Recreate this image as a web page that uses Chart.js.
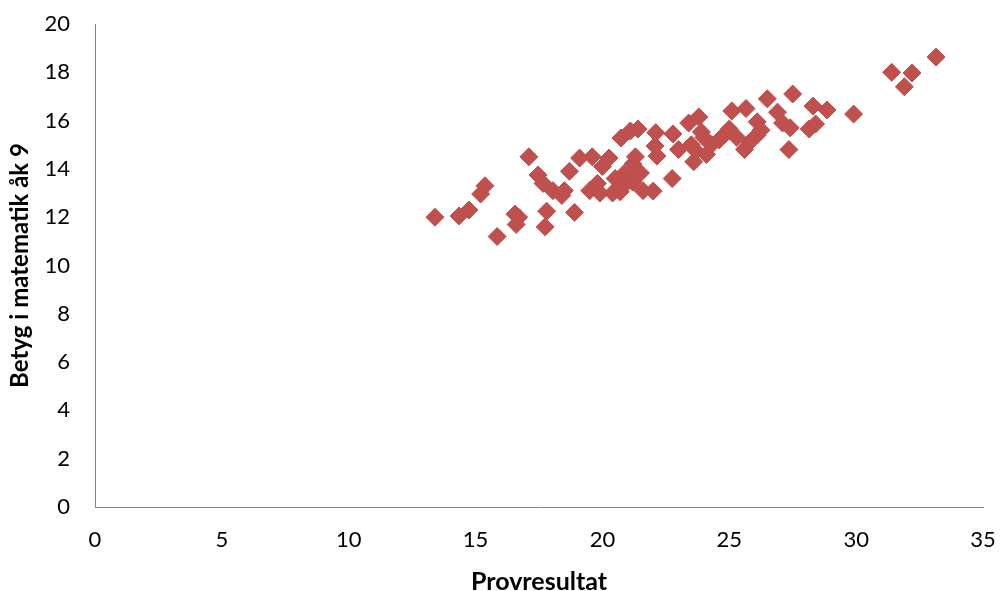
<!DOCTYPE html>
<html>
<head>
	<title>Provresultat vs betyg</title>
	<script src="https://cdn.jsdelivr.net/npm/chart.js@4.4.0/dist/chart.umd.min.js" type="text/javascript"></script>
	<style>
        html, body {
            margin: 0;
            padding: 0;
            background: white;
        }
        #wrap {
            width: 1001px;
            height: 591px;
        }
    </style>
</head>
<body>
	<div id="wrap"><canvas id="scatter"></canvas></div>
</body>
<script>
	// provresultat (x) and betyg (y)
	const provresultat = [13.4, 14.35, 14.74, 15.2, 15.37, 15.85, 16.55, 16.6, 16.7, 17.1,
		17.46, 17.66, 17.74, 17.8, 18.05, 18.4, 18.5, 18.7, 18.9, 19.1,
		19.5, 19.6, 19.8, 19.9, 20.0, 20.26, 20.4, 20.5, 20.7, 20.73,
		20.85, 20.93, 21.1, 21.2, 21.2, 21.3, 21.4, 21.5, 21.6, 22.0,
		22.07, 22.1, 22.15, 22.75, 22.78, 23.0, 23.4, 23.5, 23.6, 23.7,
		23.8, 23.9, 24.0, 24.1, 24.3, 24.6, 24.8, 25.0, 25.1, 25.3,
		25.6, 25.66, 25.8, 26.1, 26.1, 26.25, 26.5, 26.9, 27.1, 27.35,
		27.4, 27.5, 28.15, 28.3, 28.4, 28.85, 29.9, 31.4, 31.9, 32.2, 33.15];
	const betyg = [12.0, 12.05, 12.3, 12.96, 13.3, 11.2, 12.13, 11.7, 12.0, 14.5,
		13.75, 13.4, 11.6, 12.25, 13.1, 12.9, 13.1, 13.9, 12.2, 14.45,
		13.1, 14.5, 13.4, 13.0, 14.1, 14.45, 13.0, 13.6, 13.05, 15.28,
		13.8, 13.4, 15.57, 14.2, 13.45, 14.5, 15.65, 13.83, 13.1, 13.08,
		14.95, 15.5, 14.53, 13.6, 15.45, 14.8, 15.9, 15.0, 14.3, 14.74,
		16.15, 15.53, 15.3, 14.6, 15.0, 15.2, 15.4, 15.65, 16.4, 15.3,
		14.8, 16.5, 15.1, 15.95, 15.4, 15.6, 16.9, 16.35, 15.9, 14.8,
		15.7, 17.1, 15.65, 16.6, 15.86, 16.44, 16.27, 18.0, 17.4, 17.97, 18.63];

	const points = provresultat.map((x, i) => ({x: x, y: betyg[i]}));

	Chart.defaults.font.family = "Lato, 'Open Sans', sans-serif";
	Chart.defaults.color = "#000000";

	const ctx = document.getElementById('scatter');
	var chart = new Chart(ctx, {
        type: 'scatter',
        data: {
            datasets: [{
                label: 'Betyg',
                data: points,
                pointStyle: 'rectRot',
                pointRadius: 9,
                pointHoverRadius: 9,
                backgroundColor: '#C0504D',
                borderColor: '#B9504C',
                borderWidth: 1,
            }]
        },
        options: {
            responsive: true,
            maintainAspectRatio: false,
            animation: false,
            layout: {
                padding: {top: 24, right: 18, left: 0, bottom: 0}
            },
            plugins: {
                legend: {display: false},
                tooltip: {enabled: false}
            },
            scales: {
                x: {
                    type: 'linear',
                    min: 0,
                    max: 35,
                    ticks: {
                        stepSize: 5,
                        padding: 0,
                        font: {size: 22}
                    },
                    // tickLength only pushes the labels away, the grid itself is hidden
                    grid: {display: false, drawTicks: true, tickLength: 20},
                    border: {display: true, color: '#868686', width: 1},
                    title: {
                        display: true,
                        text: 'Provresultat',
                        font: {size: 25, weight: 'bold'},
                        padding: {top: 0, bottom: -6}
                    },
                    afterFit: (scale) => { scale.height = 84; }
                },
                y: {
                    type: 'linear',
                    min: 0,
                    max: 20,
                    ticks: {
                        stepSize: 2,
                        padding: 0,
                        font: {size: 22}
                    },
                    grid: {display: false, drawTicks: true, tickLength: 25},
                    border: {display: true, color: '#868686', width: 1},
                    title: {
                        display: true,
                        text: 'Betyg i matematik åk 9',
                        font: {size: 24, weight: 'bold'},
                        padding: {top: 6, bottom: 0}
                    },
                    afterFit: (scale) => { scale.width = 95; }
                }
            }
        }
    });
</script>
</html>
